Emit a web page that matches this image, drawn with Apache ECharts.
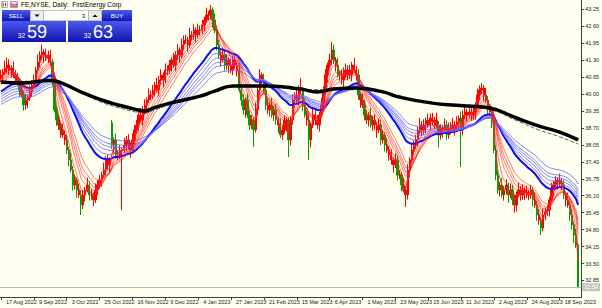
<!DOCTYPE html>
<html><head><meta charset="utf-8">
<script src="https://cdn.jsdelivr.net/npm/echarts@6/dist/echarts.min.js"></script>
<style>html,body{margin:0;padding:0;background:#fffff0;overflow:hidden}#c{width:602px;height:308px}</style>
</head><body><div id="c"></div>
<script>
// x-axis tick labels (bar index -> label)
const tickPos = [0,16,32,48,64,80,96,112,128,144,160,176,192,208,224,240,256,272];
const tickLabels = ['17 Aug 2022','9 Sep 2022','3 Oct 2022','25 Oct 2022','16 Nov 2022','9 Dec 2022','4 Jan 2023','27 Jan 2023','21 Feb 2023','15 Mar 2023','6 Apr 2023','1 May 2023','23 May 2023','15 Jun 2023','11 Jul 2023','2 Aug 2023','24 Aug 2023','18 Sep 2023'];
// y-axis price labels
const priceLabels = [32.85,33.50,34.15,34.80,35.45,36.10,36.75,37.40,38.05,38.70,39.35,40.00,40.65,41.30,41.95,42.60,43.25];

const opens = [40.60,
40.73,40.84,41.00,41.11,40.92,41.00,40.73,40.61,40.46,40.15,
39.96,39.58,39.77,39.85,40.08,40.34,40.54,40.92,41.23,41.49,
41.61,41.49,41.38,41.49,41.23,40.54,39.39,39.00,38.81,38.62,
38.43,38.24,37.85,37.47,37.09,36.51,36.70,36.32,36.13,35.74,
36.13,36.32,36.51,36.13,36.13,35.94,36.32,36.51,36.70,36.89,
37.09,37.47,37.28,38.90,38.04,38.24,37.66,37.66,37.85,37.85,
38.04,38.24,38.04,37.85,38.24,38.62,38.81,39.19,39.00,39.39,
39.58,39.77,39.96,39.96,40.15,40.34,40.15,40.54,40.73,40.54,
40.92,40.92,41.11,41.30,41.11,41.49,41.69,41.49,41.88,42.07,
42.07,41.88,42.26,42.26,42.45,42.26,42.45,42.45,42.65,42.84,
43.03,43.03,43.22,42.84,42.45,41.88,41.49,41.30,41.49,41.11,
41.30,41.11,40.92,41.30,41.11,40.92,40.15,39.77,39.39,39.77,
39.19,38.81,39.00,38.62,39.39,40.15,40.73,40.54,40.15,39.58,
39.39,39.58,39.19,39.39,39.00,38.81,38.43,38.62,39.00,38.81,
38.24,39.00,39.77,39.96,39.77,40.15,40.15,39.58,39.19,39.00,
38.24,38.81,39.19,39.00,38.81,39.19,39.58,40.15,40.73,41.11,
41.30,41.69,41.30,41.11,40.73,40.73,40.54,40.92,40.73,40.92,
40.73,41.11,40.92,40.73,39.96,39.77,39.58,39.19,39.00,39.19,
38.81,39.00,38.81,38.62,38.81,38.24,38.43,38.04,37.85,37.66,
37.47,37.28,37.47,36.89,36.89,36.51,36.32,36.13,37.09,37.47,
37.85,38.04,38.24,38.62,38.81,38.62,38.81,39.00,38.81,39.08,
38.93,39.00,38.81,38.43,38.62,38.70,38.81,38.43,38.70,38.81,
38.62,38.81,38.93,39.08,38.62,39.19,39.31,39.19,39.31,39.19,
39.31,39.58,39.96,40.15,40.23,39.96,39.77,39.39,39.31,39.00,
37.85,36.89,36.32,36.51,36.13,36.32,36.51,36.13,36.32,35.94,
35.74,36.13,36.32,36.13,36.32,36.24,36.13,36.13,36.32,35.94,
35.74,35.36,35.17,34.86,35.36,35.47,35.55,35.94,36.32,36.51,
36.63,36.70,36.59,36.51,36.13,35.94,35.74,35.36,34.98,34.59,
34.21];

const closes = [
40.73,40.84,41.00,41.11,40.92,41.00,40.73,40.61,40.46,40.15,
39.96,39.58,39.77,39.85,40.08,40.34,40.54,40.92,41.23,41.49,
41.61,41.49,41.38,41.49,41.23,40.54,39.39,39.00,38.81,38.62,
38.43,38.24,37.85,37.47,37.09,36.51,36.70,36.32,36.13,35.74,
36.13,36.32,36.51,36.13,36.13,35.94,36.32,36.51,36.70,36.89,
37.09,37.47,37.28,37.47,38.04,38.24,37.66,37.66,37.85,37.85,
38.04,38.24,38.04,37.85,38.24,38.62,38.81,39.19,39.00,39.39,
39.58,39.77,39.96,39.96,40.15,40.34,40.15,40.54,40.73,40.54,
40.92,40.92,41.11,41.30,41.11,41.49,41.69,41.49,41.88,42.07,
42.07,41.88,42.26,42.26,42.45,42.26,42.45,42.45,42.65,42.84,
43.03,43.03,43.22,42.84,42.45,41.88,41.49,41.30,41.49,41.11,
41.30,41.11,40.92,41.30,41.11,40.92,40.15,39.77,39.39,39.77,
39.19,38.81,39.00,38.62,39.39,40.15,40.73,40.54,40.15,39.58,
39.39,39.58,39.19,39.39,39.00,38.81,38.43,38.62,39.00,38.81,
38.24,39.00,39.77,39.96,39.77,40.15,40.15,39.58,39.19,39.00,
38.24,38.81,39.19,39.00,38.81,39.19,39.58,40.15,40.73,41.11,
41.30,41.69,41.30,41.11,40.73,40.73,40.54,40.92,40.73,40.92,
40.73,41.11,40.92,40.73,39.96,39.77,39.58,39.19,39.00,39.19,
38.81,39.00,38.81,38.62,38.81,38.24,38.43,38.04,37.85,37.66,
37.47,37.28,37.47,36.89,36.89,36.51,36.32,36.13,37.09,37.47,
37.85,38.04,38.24,38.62,38.81,38.62,38.81,39.00,38.81,39.08,
38.93,39.00,38.81,38.43,38.62,38.70,38.81,38.43,38.70,38.81,
38.62,38.81,38.93,39.08,38.62,39.19,39.31,39.19,39.31,39.19,
39.31,39.58,39.96,40.15,40.23,39.96,39.77,39.39,39.31,39.00,
37.85,36.89,36.32,36.51,36.13,36.32,36.51,36.13,36.32,35.94,
35.74,36.13,36.32,36.13,36.32,36.24,36.13,36.13,36.32,35.94,
35.74,35.36,35.17,34.86,35.36,35.47,35.55,35.94,36.32,36.51,
36.63,36.70,36.59,36.51,36.13,35.94,35.74,35.36,34.98,34.59,
34.21,32.59];

const highs = [
40.93,40.96,41.28,41.40,41.33,41.10,41.25,40.91,40.81,40.58,
40.43,40.11,39.99,39.95,40.33,40.52,40.74,41.04,41.51,41.64,
41.90,41.71,41.74,41.67,41.69,41.35,40.82,39.54,39.22,38.91,
38.87,38.61,38.44,37.97,37.75,37.24,36.92,36.80,36.57,36.31,
36.33,36.44,36.79,36.66,36.35,36.23,36.57,36.69,36.90,37.01,
37.37,37.62,37.69,37.57,39.00,38.34,38.49,37.84,38.05,37.97,
38.32,38.39,38.46,38.14,38.49,38.80,39.01,39.31,39.47,39.54,
39.80,39.87,40.21,40.14,40.35,40.46,40.62,40.69,40.95,40.83,
41.17,41.10,41.31,41.42,41.58,41.64,41.91,41.79,42.13,42.25,
42.27,42.19,42.54,42.41,42.67,42.55,42.70,42.63,42.85,42.96,
43.31,43.18,43.41,43.32,43.09,42.63,42.08,41.61,41.77,41.64,
41.52,41.40,41.36,41.48,41.50,41.23,41.20,40.30,39.99,39.87,
40.02,39.37,39.20,39.12,39.67,40.30,40.95,40.83,40.79,40.33,
39.78,39.70,39.86,39.54,39.61,39.10,39.06,38.80,39.20,39.12,
39.09,39.15,39.99,40.06,40.21,40.33,40.61,40.27,39.86,39.34,
39.22,38.91,39.44,39.37,39.20,39.31,39.86,40.30,40.95,41.21,
41.55,41.99,41.89,41.42,41.39,40.88,40.95,41.02,41.17,41.10,
41.12,41.23,41.39,41.07,40.95,40.06,40.02,39.76,39.39,39.31,
39.47,39.15,39.22,38.91,39.06,38.99,38.63,38.55,38.32,38.00,
37.88,37.57,37.72,37.65,37.09,37.01,36.79,36.47,37.31,37.57,
38.10,38.22,38.44,38.74,39.09,38.96,39.03,39.10,39.25,39.26,
39.28,39.12,39.28,38.96,38.84,38.80,39.06,38.99,38.90,38.93,
39.09,38.96,39.15,39.18,39.33,39.37,39.51,39.43,39.59,39.46,
39.53,39.68,40.21,40.33,40.42,40.35,40.24,39.92,39.61,39.41,
39.25,38.03,37.09,36.63,36.79,36.47,36.73,36.61,36.57,36.50,
36.14,36.25,36.60,36.47,36.54,36.42,36.49,36.31,36.52,36.44,
36.22,35.89,35.58,35.27,35.61,35.65,35.75,36.06,36.60,36.66,
36.85,36.80,36.95,36.77,36.71,36.25,36.22,35.89,35.58,35.08,
34.84,34.30];

const lows = [
40.45,40.48,40.74,40.78,40.74,40.62,40.61,40.41,40.31,39.90,
39.86,39.36,39.40,39.47,39.73,39.88,40.19,40.29,40.82,41.01,
41.31,41.19,41.26,41.18,41.08,40.29,39.29,38.78,38.63,38.32,
38.31,38.04,37.70,37.22,36.99,36.29,36.33,36.02,36.01,35.36,
35.59,35.88,36.22,35.91,35.95,35.70,35.82,36.12,36.36,36.45,
36.79,36.87,37.10,36.98,37.90,37.74,37.54,37.46,37.51,35.55,
37.75,37.82,37.86,37.55,37.73,38.04,38.47,38.56,38.90,38.78,
39.21,39.28,39.65,39.76,39.81,39.90,40.05,39.93,40.36,40.24,
40.42,40.72,40.77,40.86,41.01,40.89,41.31,41.19,41.37,41.68,
41.92,41.63,41.78,42.04,42.08,41.96,42.14,42.25,42.30,42.40,
42.74,42.81,42.85,42.54,42.33,41.68,41.34,41.05,41.20,40.89,
40.93,40.81,40.80,40.72,40.96,40.67,40.05,39.55,39.21,39.09,
39.07,38.61,38.66,37.97,38.52,39.17,39.97,40.24,40.03,39.38,
39.24,39.14,39.09,38.97,38.82,38.51,38.31,38.23,38.47,38.56,
37.58,38.02,38.82,39.47,39.65,39.57,40.00,39.33,39.09,38.78,
37.47,37.94,38.69,38.80,38.66,38.56,39.09,39.36,39.97,40.43,
40.99,41.10,41.15,40.86,40.63,40.51,40.36,40.24,40.61,40.53,
40.58,40.48,40.82,40.51,39.78,39.47,39.46,38.99,38.85,38.75,
38.71,38.59,38.63,38.32,38.50,38.04,38.09,37.79,37.75,37.44,
37.29,36.98,37.16,36.69,36.74,36.26,36.22,35.67,35.95,36.79,
37.35,37.65,37.89,37.99,38.52,38.40,38.44,38.51,38.69,38.61,
38.78,38.68,38.71,37.95,38.25,38.32,38.58,38.23,38.28,38.45,
38.52,38.40,38.63,38.63,37.20,38.42,39.04,38.94,39.09,38.97,
39.01,39.01,39.46,39.76,40.00,39.71,39.67,39.17,39.13,38.70,
37.73,36.69,36.17,36.07,36.03,35.91,36.14,35.83,36.01,35.74,
35.45,35.49,36.03,35.91,35.95,35.94,36.01,35.93,35.98,35.69,
35.64,35.14,34.99,34.59,34.74,35.16,35.32,35.30,35.84,36.10,
36.33,36.33,36.47,36.31,35.98,35.69,35.64,35.14,34.80,34.29,
34.09,32.55];

// GMMA periods and starting levels read at the left edge
const redPeriods = [3,5,8,10,12,15];
const redStart = [40.62,40.56,40.49,40.45,40.41,40.37];
const bluePeriods = [30,35,40,45,50,60];
const blueStart = [40.10,40.00,39.90,39.80,39.70,39.60];

// long moving averages: [bar index, price]
const blackMA = [[0,40.46],[10,40.42],[24,40.52],[29,40.44],[40,40.04],[49,39.77],[57,39.58],[65,39.42],[70,39.35],[74,39.46],[81,39.62],[89,39.77],[97,39.92],[104,40.11],[113,40.31],[130,40.31],[146,40.19],[154,40.08],[162,40.19],[173,40.23],[186,40.08],[194,39.88],[210,39.65],[227,39.54],[238,39.46],[251,39.08],[262,38.77],[272,38.54],[281,38.24]];
const dashedMA = [[0,40.46],[24,40.50],[40,40.00],[49,39.68],[57,39.48],[65,39.32],[70,39.27],[74,39.36],[81,39.56],[89,39.74],[97,39.90],[113,40.29],[130,40.29],[146,40.17],[162,40.17],[186,40.05],[210,39.62],[227,39.50],[238,39.40],[251,38.98],[262,38.62],[272,38.36],[281,38.08]];

const bidPrice = 32.59;
const sellBig = '59', buyBig = '63', quoteHead = '32', lotValue = '3';
const titleText = 'FE,NYSE, Daily:  FirstEnergy Corp';

function ema(period, start) {
  const k = 2 / (period + 1);
  let e = start;
  return closes.map((c, i) => { if (i > 0) e = e + k * (c - e); return +e.toFixed(3); });
}

const N = closes.length;
const cats = Array.from({length: N + 1}, (_, i) => String(i));
const GREEN = '#00a000';
const candleData = closes.map((c, i) => {
  const item = {value: [opens[i], c, lows[i], highs[i]]};
  // tall falling bodies show their green fill (the thin red outline hides it on small bodies)
  if (opens[i] - c >= 0.3) item.itemStyle = {color0: GREEN, borderColor0: GREEN};
  return item;
});

const series = [{
  type: 'candlestick', data: candleData, barWidth: 1.8, z: 2,
  itemStyle: {color: '#ff0000', color0: GREEN, borderColor: '#ff0000', borderColor0: '#ff0000', borderWidth: 1},
  markLine: {symbol: 'none', silent: true, animation: false,
    data: [{yAxis: bidPrice}],
    lineStyle: {color: '#b8b8b8', type: 'solid', width: 1},
    label: {position: 'end', formatter: bidPrice.toFixed(2), backgroundColor: '#c4c4c4', color: '#fff', fontSize: 5.5, fontFamily: 'Liberation Sans', padding: [1, 2, 1, 2], distance: 1}
  }
}];
bluePeriods.forEach((p, j) => series.push({
  type: 'line', data: ema(p, blueStart[j]), symbol: 'none', z: 3,
  lineStyle: j === 0 ? {color: '#0a0aff', width: 2} : {color: '#6a6aff', width: 1, opacity: 0.85}
}));
redPeriods.forEach((p, j) => series.push({
  type: 'line', data: ema(p, redStart[j]), symbol: 'none', z: 4,
  lineStyle: {color: '#ff2020', width: 1, opacity: j === 0 ? 0.9 : 0.6}
}));
series.push({type: 'line', data: dashedMA, symbol: 'none', smooth: true, z: 5,
  lineStyle: {color: '#606060', width: 1, type: [4, 2]}});
series.push({type: 'line', data: blackMA, symbol: 'none', smooth: true, z: 6,
  lineStyle: {color: '#000000', width: 3.5}});

const blueGrad = {type: 'linear', x: 0, y: 0, x2: 0, y2: 1, colorStops: [{offset: 0, color: '#4a5aec'}, {offset: 1, color: '#1014b0'}]};
const F = '"Liberation Sans", Arial, sans-serif';
const graphic = [
  {type: 'rect', shape: {x: 1.5, y: 1.5, width: 6, height: 6}, style: {fill: '#fff', stroke: '#808080', lineWidth: 0.6}},
  {type: 'rect', shape: {x: 2.5, y: 2.5, width: 1.2, height: 4}, style: {fill: '#d02020'}},
  {type: 'rect', shape: {x: 5, y: 3, width: 1.2, height: 3}, style: {fill: '#2050d0'}},
  {type: 'rect', shape: {x: 10.5, y: 1.5, width: 7, height: 6}, style: {fill: '#e8e0f0', stroke: '#8060a0', lineWidth: 0.6}},
  {type: 'text', style: {text: 'bd', x: 14, y: 4.6, fill: '#c02020', font: 'bold 5px ' + F, textAlign: 'center', textVerticalAlign: 'middle'}},
  {type: 'text', style: {text: titleText, x: 21, y: 4.8, fill: '#000', font: '6.5px ' + F, textVerticalAlign: 'middle'}},
  {type: 'rect', shape: {x: 2, y: 10, width: 28, height: 11}, style: {fill: blueGrad}},
  {type: 'text', style: {text: 'SELL', x: 16, y: 15.5, fill: '#fff', font: '6px ' + F, textAlign: 'center', textVerticalAlign: 'middle'}},
  {type: 'rect', shape: {x: 30.5, y: 10.5, width: 13, height: 10}, style: {fill: '#ececec', stroke: '#a0a0a0', lineWidth: 0.6}},
  {type: 'polygon', shape: {points: [[34.5, 14.5], [39.5, 14.5], [37, 17]]}, style: {fill: '#000'}},
  {type: 'rect', shape: {x: 43.5, y: 10.5, width: 45, height: 10}, style: {fill: '#ffffff', stroke: '#a0a0a0', lineWidth: 0.6}},
  {type: 'text', style: {text: lotValue, x: 85, y: 15.5, fill: '#000', font: '6px ' + F, textAlign: 'right', textVerticalAlign: 'middle'}},
  {type: 'rect', shape: {x: 88.5, y: 10.5, width: 13, height: 10}, style: {fill: '#ececec', stroke: '#a0a0a0', lineWidth: 0.6}},
  {type: 'polygon', shape: {points: [[92.5, 17], [97.5, 17], [95, 14.5]]}, style: {fill: '#000'}},
  {type: 'rect', shape: {x: 102, y: 10, width: 30, height: 11}, style: {fill: blueGrad}},
  {type: 'text', style: {text: 'BUY', x: 117, y: 15.5, fill: '#fff', font: '6px ' + F, textAlign: 'center', textVerticalAlign: 'middle'}},
  {type: 'rect', shape: {x: 2, y: 21, width: 64, height: 21}, style: {fill: blueGrad}},
  {type: 'rect', shape: {x: 68, y: 21, width: 64, height: 21}, style: {fill: blueGrad}},
  {type: 'text', style: {text: quoteHead, x: 25, y: 35.5, fill: '#fff', font: '6.5px ' + F, textAlign: 'right', textVerticalAlign: 'middle'}},
  {type: 'text', style: {text: sellBig, x: 27, y: 32, fill: '#fff', font: '18px ' + F, textAlign: 'left', textVerticalAlign: 'middle'}},
  {type: 'text', style: {text: quoteHead, x: 91, y: 35.5, fill: '#fff', font: '6.5px ' + F, textAlign: 'right', textVerticalAlign: 'middle'}},
  {type: 'text', style: {text: buyBig, x: 93, y: 32, fill: '#fff', font: '18px ' + F, textAlign: 'left', textVerticalAlign: 'middle'}}
];

const chart = echarts.init(document.getElementById('c'), null, {renderer: 'svg'});
chart.setOption({
  backgroundColor: '#fffff0',
  animation: false,
  grid: {left: -1.6, right: 20.6, top: 0, bottom: 11},
  xAxis: {
    type: 'category', data: cats, boundaryGap: true,
    axisLine: {show: true, lineStyle: {color: '#404040', width: 1}},
    axisTick: {show: true, alignWithLabel: true, length: 3, interval: (i) => tickPos.includes(i), lineStyle: {color: '#404040'}},
    axisLabel: {interval: (i) => tickPos.includes(i), formatter: (v, i) => tickLabels[tickPos.indexOf(+v)] || '',
      align: 'left', padding: [0, 0, 0, 5], margin: 2, fontSize: 5.5, color: '#202020', fontFamily: F},
    splitLine: {show: false}
  },
  yAxis: {
    type: 'value', position: 'right', min: 32.216, max: 43.604, scale: true,
    axisLine: {show: true, lineStyle: {color: '#404040', width: 1}},
    axisTick: {show: true, length: 3, customValues: priceLabels, lineStyle: {color: '#404040'}},
    axisLabel: {customValues: priceLabels, formatter: (v) => v.toFixed(2), margin: 4, fontSize: 5.5, color: '#202020', fontFamily: F},
    splitLine: {show: false}
  },
  series: series,
  graphic: graphic
});
</script></body></html>
